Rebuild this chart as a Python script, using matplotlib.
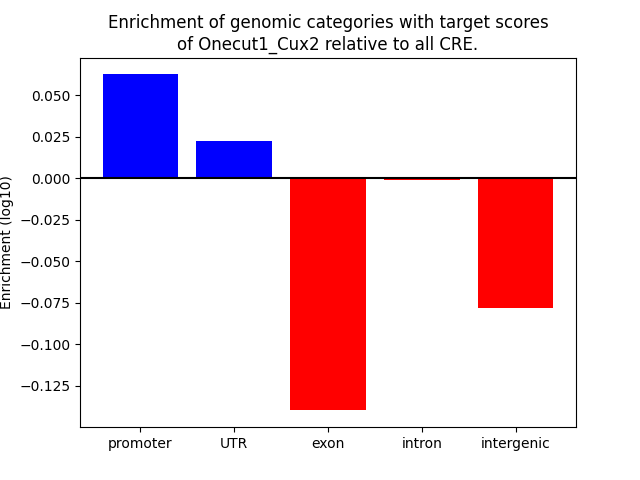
import matplotlib
matplotlib.use('Agg')
import matplotlib.pyplot as plt

categories = ['promoter', 'UTR', 'exon', 'intron', 'intergenic']
enrichment = [0.0627, 0.0223, -0.1398, -0.0008, -0.0783]

colors = ['blue' if v > 0 else 'red' for v in enrichment]

fig = plt.figure(figsize=(6.4, 4.8), dpi=100)
plt.bar(categories, enrichment, color=colors)
plt.axhline(0, color='black')
plt.ylabel('Enrichment (log10)')
plt.title('Enrichment of genomic categories with target scores\nof Onecut1_Cux2 relative to all CRE.')

plt.savefig('out.png')
